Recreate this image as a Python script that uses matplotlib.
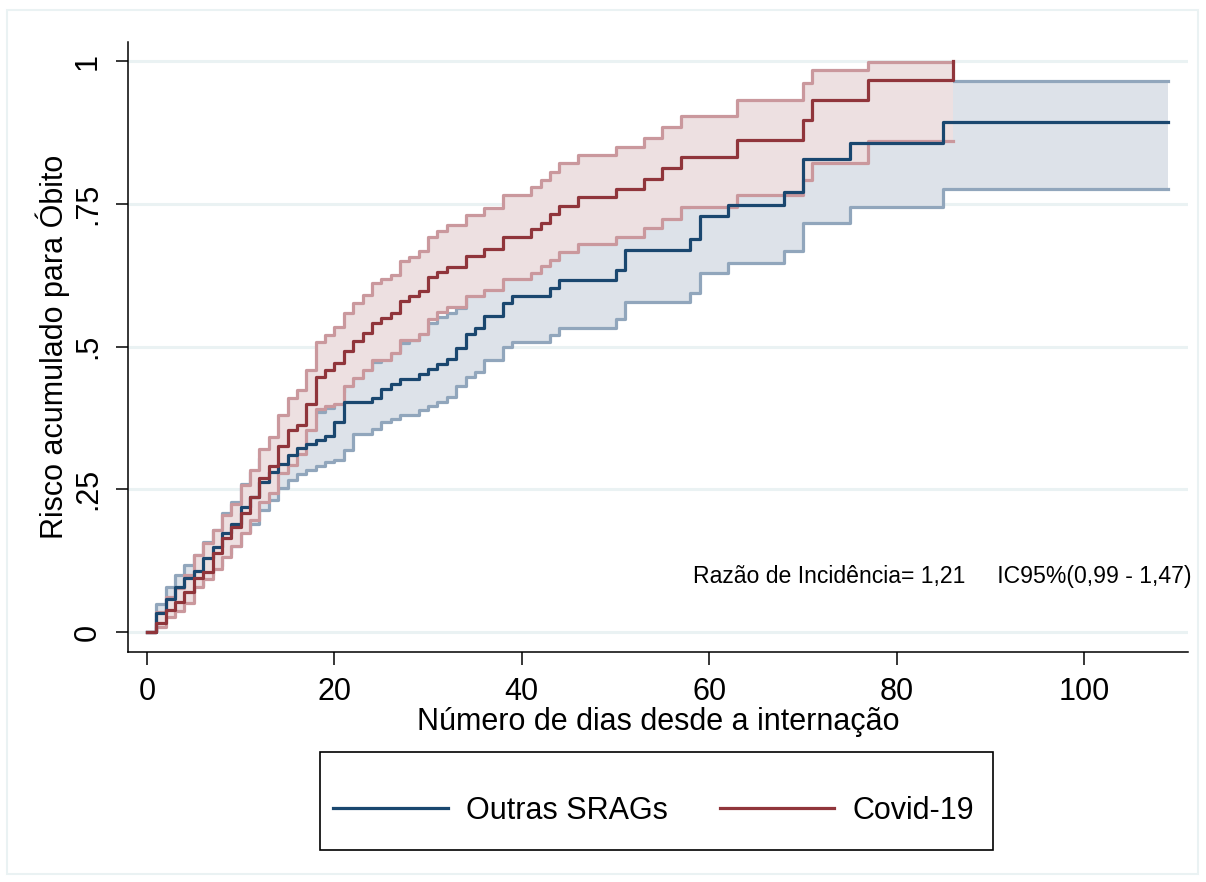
import numpy as np
import matplotlib
matplotlib.use('Agg')
import matplotlib.pyplot as plt
from matplotlib.patches import Rectangle

plt.rcParams['font.family'] = ['Liberation Sans', 'DejaVu Sans']

# Outras SRAGs: step days, cumulative risk and 95% CI
blue_days = [1, 2, 3, 4, 5, 6, 7, 8, 9, 10, 11, 12, 13, 14, 15, 16, 17, 18, 19, 20,
             21, 22, 24, 25, 26, 27, 28, 29, 30, 31, 32, 33, 34, 35, 36, 38, 39,
             43, 44, 50, 51, 58, 59, 62, 68, 70, 75, 85]
blue_risk = [0.033, 0.058, 0.079, 0.095, 0.107, 0.130, 0.149, 0.174, 0.190, 0.219,
             0.236, 0.262, 0.280, 0.295, 0.310, 0.323, 0.329, 0.336, 0.343, 0.368,
             0.403, 0.403, 0.409, 0.425, 0.434, 0.443, 0.443, 0.451, 0.460, 0.469,
             0.479, 0.497, 0.522, 0.532, 0.554, 0.577, 0.588, 0.602, 0.616, 0.634,
             0.669, 0.688, 0.729, 0.748, 0.770, 0.828, 0.857, 0.894]
blue_lo = [0.022, 0.040, 0.057, 0.070, 0.080, 0.099, 0.115, 0.136, 0.150, 0.175,
           0.190, 0.213, 0.232, 0.252, 0.266, 0.276, 0.283, 0.291, 0.297, 0.301,
           0.318, 0.347, 0.355, 0.367, 0.373, 0.380, 0.380, 0.389, 0.396, 0.403,
           0.412, 0.431, 0.447, 0.456, 0.476, 0.500, 0.508, 0.520, 0.533, 0.548,
           0.578, 0.593, 0.629, 0.647, 0.667, 0.717, 0.745, 0.776]
blue_hi = [0.049, 0.078, 0.100, 0.117, 0.135, 0.158, 0.179, 0.208, 0.228, 0.259,
           0.280, 0.305, 0.322, 0.340, 0.356, 0.370, 0.377, 0.385, 0.393, 0.420,
           0.440, 0.460, 0.473, 0.482, 0.492, 0.506, 0.511, 0.526, 0.541, 0.552,
           0.559, 0.567, 0.592, 0.603, 0.626, 0.648, 0.660, 0.675, 0.688, 0.705,
           0.745, 0.765, 0.805, 0.822, 0.845, 0.900, 0.925, 0.965]
blue_end = 109

# Covid-19
red_days = [1, 2, 3, 4, 5, 6, 7, 8, 9, 10, 11, 12, 13, 14, 15, 16, 17, 18, 19, 20,
            21, 22, 23, 24, 25, 26, 27, 28, 29, 30, 31, 32, 34, 36, 38, 41, 42, 43,
            44, 46, 50, 53, 55, 57, 63, 70, 71, 77, 86]
red_risk = [0.016, 0.0385, 0.053, 0.0695, 0.094, 0.105, 0.138, 0.164, 0.184, 0.208,
            0.236, 0.269, 0.291, 0.326, 0.353, 0.363, 0.399, 0.446, 0.458, 0.471,
            0.493, 0.510, 0.523, 0.542, 0.550, 0.558, 0.580, 0.588, 0.597, 0.621,
            0.631, 0.640, 0.658, 0.670, 0.692, 0.705, 0.717, 0.732, 0.746, 0.761,
            0.776, 0.793, 0.812, 0.832, 0.862, 0.897, 0.931, 0.966, 1.0]
red_lo = [0.008, 0.026, 0.036, 0.050, 0.079, 0.092, 0.110, 0.132, 0.150, 0.173,
          0.196, 0.228, 0.244, 0.278, 0.292, 0.312, 0.354, 0.390, 0.396, 0.400,
          0.431, 0.444, 0.459, 0.476, 0.476, 0.489, 0.511, 0.511, 0.522, 0.549,
          0.561, 0.570, 0.588, 0.599, 0.618, 0.628, 0.641, 0.651, 0.665, 0.679,
          0.692, 0.708, 0.724, 0.745, 0.765, 0.792, 0.822, 0.860, 0.860]
red_hi = [0.035, 0.062, 0.0765, 0.100, 0.135, 0.156, 0.179, 0.205, 0.225, 0.257,
          0.283, 0.320, 0.342, 0.380, 0.409, 0.423, 0.459, 0.508, 0.521, 0.535,
          0.558, 0.577, 0.590, 0.611, 0.618, 0.625, 0.650, 0.657, 0.667, 0.692,
          0.702, 0.713, 0.731, 0.742, 0.766, 0.780, 0.792, 0.806, 0.821, 0.835,
          0.849, 0.866, 0.884, 0.903, 0.932, 0.962, 0.984, 0.998, 0.998]
red_end = 86

xticks = [0, 20, 40, 60, 80, 100]
yticks = [0, 0.25, 0.5, 0.75, 1]
ytick_labels = ['0', '.25', '.5', '.75', '1']

navy = (26/255, 71/255, 111/255)
maroon = (144/255, 53/255, 59/255)
navy_ci = (145/255, 166/255, 188/255)
maroon_ci = (202/255, 152/255, 157/255)
navy_fill = (221/255, 226/255, 233/255)
maroon_fill = (237/255, 224/255, 225/255)
grid_col = (234/255, 242/255, 243/255)


def steps(days, vals, end):
    x = np.array([0] + list(days) + [end], dtype=float)
    y = np.array([0] + list(vals) + [vals[-1]], dtype=float)
    return x, y


fig = plt.figure(figsize=(12.06, 8.82), dpi=100)
ax = fig.add_axes([128/1206, 1 - 652/882, 1060/1206, 610/882])

# blue group: area, ci lines
x, lo = steps(blue_days, blue_lo, blue_end)
_, hi = steps(blue_days, blue_hi, blue_end)
ax.fill_between(x, lo, hi, step='post', color=navy_fill, lw=0, zorder=1)
ax.step(x, lo, where='post', color=navy_ci, lw=2.3, zorder=2)
ax.step(x, hi, where='post', color=navy_ci, lw=2.3, zorder=2)

# red group drawn on top
x, lo = steps(red_days, red_lo, red_end)
_, hi = steps(red_days, red_hi, red_end)
ax.fill_between(x, lo, hi, step='post', color=maroon_fill, lw=0, zorder=3)
ax.step(x, lo, where='post', color=maroon_ci, lw=2.3, zorder=4)
ax.step(x, hi, where='post', color=maroon_ci, lw=2.3, zorder=4)

x, r = steps(blue_days, blue_risk, blue_end)
ax.step(x, r, where='post', color=navy, lw=2.3, zorder=5, label='Outras SRAGs')
x, r = steps(red_days, red_risk, red_end)
ax.step(x, r, where='post', color=maroon, lw=2.3, zorder=6, label='Covid-19')

ax.set_xlim(-2.03, 111.1)
ax.set_ylim(-0.035, 1.0333)
ax.set_xticks(xticks)
ax.set_yticks(yticks)
ax.set_yticklabels(ytick_labels, rotation=90, va='center')
ax.tick_params(axis='both', labelsize=22, length=9, width=1.1, pad=9)
for t in yticks:
    ax.axhline(t, color=grid_col, lw=2.2, zorder=0)
for s in ['top', 'right']:
    ax.spines[s].set_visible(False)
for s in ['left', 'bottom']:
    ax.spines[s].set_linewidth(1.1)

ax.set_xlabel('Número de dias desde a internação', fontsize=22, labelpad=0)
ax.set_ylabel('Risco acumulado para Óbito', fontsize=22, labelpad=2)

ax.text(58.3, 0.0858, 'Razão de Incidência= 1,21     IC95%(0,99 - 1,47)',
        fontsize=16.6, ha='left', va='baseline', clip_on=False, zorder=10)

# legend box
fig.patches.append(Rectangle((320/1206, 1 - 850/882), 673/1206, 98/882,
                             transform=fig.transFigure, fill=False,
                             ec='black', lw=1.2))
handles, labels = ax.get_legend_handles_labels()
fig.legend(handles, labels, loc='center left', bbox_to_anchor=(333/1206, 1 - 811/882),
           ncol=2, frameon=False, fontsize=22, handlelength=3.75, handletextpad=0.6,
           columnspacing=1.7, borderpad=0, borderaxespad=0)

# outer graph region frame, kept under the axes and text
fig.patches.append(Rectangle((7/1206, 1 - 874/882), 1191/1206, 864/882,
                             transform=fig.transFigure, fill=False,
                             ec=grid_col, lw=1.5, zorder=-1))

fig.savefig('out.png', dpi=100)
